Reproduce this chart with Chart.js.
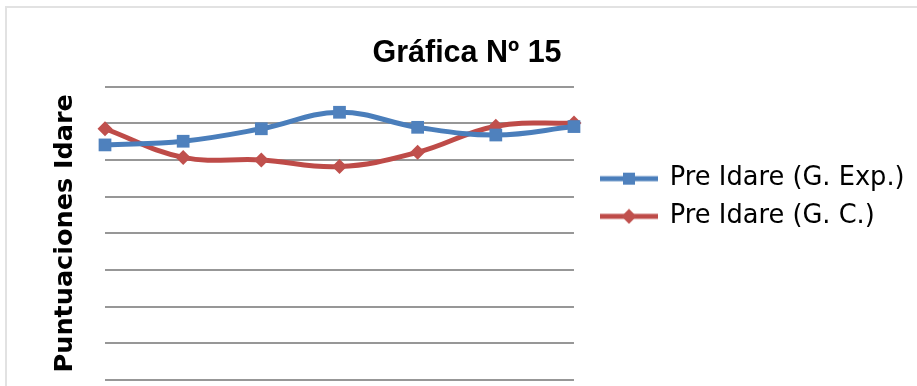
<!DOCTYPE html>
<html>
<head>
<meta charset="utf-8">
<script src="https://cdn.jsdelivr.net/npm/chart.js@4/dist/chart.umd.min.js"></script>
<style>
  html, body { margin: 0; padding: 0; background: #ffffff; overflow: hidden; }
  #wrap { position: relative; width: 917px; height: 386px; }
  #frame { position: absolute; left: 5px; top: 6px; width: 2000px; height: 2000px; border: 2px solid #e2e2e2; box-sizing: border-box; }
  canvas { position: absolute; left: 0; top: 0; }
</style>
</head>
<body>
<div id="wrap">
  <div id="frame"></div>
  <canvas id="c" width="917" height="386"></canvas>
</div>
<script>
const chartTitle = 'Gráfica Nº 15';
const yAxisTitle = 'Puntuaciones Idare';
const categories = ['1', '2', '3', '4', '5', '6', '7'];
const seriesNames = ['Pre Idare (G. Exp.)', 'Pre Idare (G. C.)'];
const preIdareExp = [64.1, 65.1, 68.5, 73.0, 68.9, 66.8, 69.1];
const preIdareControl = [68.5, 60.7, 60.0, 58.2, 62.1, 69.2, 70.1];
const yMin = 0, yMax = 80, yStep = 10;

const BLUE_LINE = '#4A7EBB', BLUE_MARK = '#4F81BD';
const RED_LINE = '#BE4B48', RED_MARK = '#C0504D';

function legendIcon(lineColor, markColor, shape) {
  const cv = document.createElement('canvas');
  cv.width = 58; cv.height = 16;
  const g = cv.getContext('2d');
  g.strokeStyle = lineColor; g.lineWidth = 5;
  g.beginPath(); g.moveTo(0, 8); g.lineTo(58, 8); g.stroke();
  g.fillStyle = markColor;
  if (shape === 'square') {
    g.fillRect(29 - 6, 8 - 6, 12, 12);
  } else {
    g.beginPath(); g.moveTo(29, 0.5); g.lineTo(36.5, 8); g.lineTo(29, 15.5); g.lineTo(21.5, 8); g.closePath(); g.fill();
  }
  return cv;
}
const icons = [legendIcon(BLUE_LINE, BLUE_MARK, 'square'), legendIcon(RED_LINE, RED_MARK, 'diamond')];

new Chart(document.getElementById('c'), {
  type: 'line',
  data: {
    labels: categories,
    datasets: [
      {
        label: seriesNames[0], data: preIdareExp,
        borderColor: BLUE_LINE, backgroundColor: BLUE_MARK, borderWidth: 5,
        tension: 0.4, pointStyle: 'rect', pointRadius: 9, pointBackgroundColor: BLUE_MARK,
        pointBorderColor: BLUE_MARK, pointBorderWidth: 0, clip: false
      },
      {
        label: seriesNames[1], data: preIdareControl,
        borderColor: RED_LINE, backgroundColor: RED_MARK, borderWidth: 5,
        tension: 0.4, pointStyle: 'rectRot', pointRadius: 7.5, pointBackgroundColor: RED_MARK,
        pointBorderColor: RED_MARK, pointBorderWidth: 0, clip: false
      }
    ]
  },
  options: {
    responsive: false,
    animation: false,
    devicePixelRatio: 1,
    layout: { autoPadding: false, padding: { left: 19.4, right: 2.4, top: 0, bottom: 6 } },
    plugins: {
      title: {
        display: true, text: chartTitle, color: '#000',
        font: { family: 'Liberation Sans', weight: 'bold', size: 30.5, lineHeight: 1.2 },
        padding: { top: 35, bottom: 15 }
      },
      legend: {
        position: 'right',
        align: 'center',
        maxWidth: 400,
        title: { display: true, text: ' ', font: { size: 1, lineHeight: 1 }, padding: 7 },
        labels: {
          usePointStyle: true,
          pointStyleWidth: 56,
          padding: 12,
          color: '#000',
          font: { family: 'DejaVu Sans', size: 25.7 },
          generateLabels: (chart) => chart.data.datasets.map((ds, i) => ({
            text: ds.label, pointStyle: icons[i], datasetIndex: i, hidden: false,
            fontColor: '#000', lineWidth: 0, strokeStyle: 'transparent', fillStyle: 'transparent'
          }))
        }
      },
      tooltip: { enabled: false }
    },
    scales: {
      x: {
        type: 'category', offset: false, display: false,
        grid: { display: false }
      },
      y: {
        type: 'linear', position: 'left', min: yMin, max: yMax,
        ticks: { display: false, stepSize: yStep },
        border: { display: false },
        grid: { color: '#979797', lineWidth: 2, drawTicks: false },
        title: {
          display: true, text: yAxisTitle, color: '#000',
          font: { family: 'DejaVu Sans', weight: 'bold', size: 25.5, lineHeight: 1.2 },
          padding: { top: 30.7, bottom: 0 }
        },
        afterFit: (s) => { s.width = 85.6; }
      },
      spacer: {
        type: 'linear', position: 'right', display: true,
        ticks: { display: false }, grid: { display: false }, border: { display: false },
        afterFit: (s) => { s.width = 15; }
      }
    }
  }
});
</script>
</body>
</html>
